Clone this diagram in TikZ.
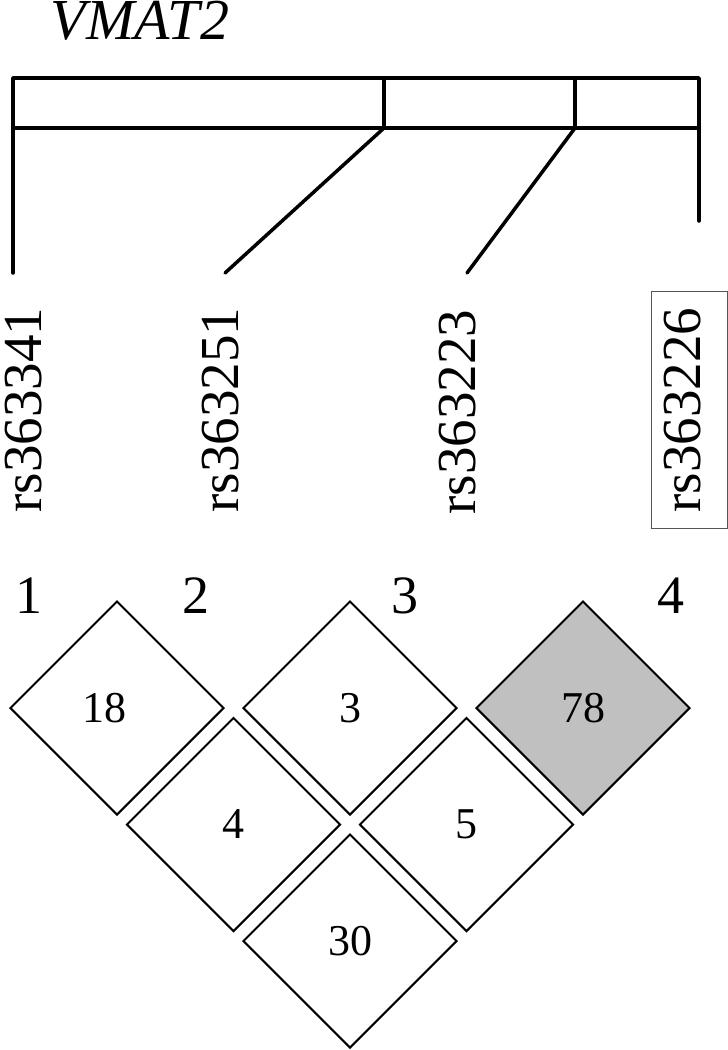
\documentclass[tikz,border=0pt]{standalone}
\usepackage{fontspec}
\setmainfont{Liberation Serif}
\usetikzlibrary{shapes.geometric}
\definecolor{ldgray}{HTML}{C0C0C0}
\definecolor{boxgray}{HTML}{555555}

\begin{document}
\begin{tikzpicture}[x=1pt,y=-1pt,
  gene/.style={line width=3.5pt,line join=round,line cap=round},
  snp/.style={rotate=90,anchor=base,inner sep=0pt,font=\fontsize{55}{60}\selectfont},
  num/.style={anchor=base,inner sep=0pt,font=\fontsize{54}{60}\selectfont},
  ld/.style={diamond,draw,line width=2pt,minimum width=214pt,minimum height=214pt,inner sep=0pt,font=\fontsize{44}{48}\selectfont}]
  \useasboundingbox (0,0) rectangle (728,1050);
  \node[anchor=base,inner sep=0pt,font=\fontsize{58}{62}\selectfont\itshape] (gene) at (140,39) {VMAT2};
  % exon bar
  \draw[gene] (13,78) rectangle (699,128);
  \draw[gene] (384,78) -- (384,128);
  \draw[gene] (575,78) -- (575,128);
  \coordinate (e1) at (13,128);  \coordinate (t1) at (13,273);
  \coordinate (e2) at (384,128); \coordinate (t2) at (225,273);
  \coordinate (e3) at (575,128); \coordinate (t3) at (467,273);
  \coordinate (e4) at (699,128); \coordinate (t4) at (699,221);
  \foreach \i in {1,...,4}
    \draw[gene] (e\i) -- (t\i);
  % snp names
  \node[snp] (s1) at (41,410) {rs363341};
  \node[snp] (s2) at (238,410) {rs363251};
  \node[snp] (s3) at (475,412) {rs363223};
  \node[snp,draw=boxgray,line width=1pt,inner xsep=16pt,inner ysep=12pt,text depth=15pt] (s4) at (700,410) {rs363226};
  \node[num] (m1) at (29,613) {1};
  \node[num] (m2) at (196,613) {2};
  \node[num] (m3) at (405,613) {3};
  \node[num] (m4) at (671,613) {4};
  % LD blocks
  \node[ld] (d12) at (117,708) {18\hspace*{26pt}};
  \node[ld] (d23) at (350,708) {3};
  \node[ld,fill=ldgray] (d34) at (583,708) {78};
  \node[ld] (d13) at (233.5,824.5) {4};
  \node[ld] (d24) at (466.5,824.5) {5};
  \node[ld] (d14) at (350,941) {30};
\end{tikzpicture}
\end{document}
